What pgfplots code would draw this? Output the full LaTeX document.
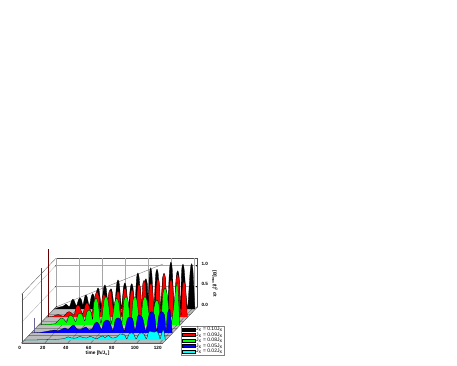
\documentclass[border=0pt]{standalone}
\usepackage{fontspec}
\setmainfont{Liberation Sans}
\usepackage{pgfplots}
\pgfplotsset{compat=1.18}
\definecolor{floorgray}{gray}{0.74}
\definecolor{rcyan}{rgb}{0,1,1}
\definecolor{rred}{rgb}{1,0,0}
\definecolor{rgreen}{rgb}{0,1,0}
\definecolor{rblue}{rgb}{0,0,1}
\pgfplotsset{ribbon/.style={draw=black,line width=0.28pt,fill=#1,mark=none,smooth,tension=0.45,
  legend image code/.code={\path[draw=black,line width=0.5pt,fill=#1] (0pt,-1.6pt) rectangle (13pt,1.6pt);}}}
\begin{document}
\begin{tikzpicture}
\path[use as bounding box] (0pt,0pt) rectangle (457pt,365pt);
\begin{axis}[
  at={(21.7pt,22pt)},anchor=origin,
  x={(1.15pt,0pt)},y={(6.86pt,7.2pt)},z={(0pt,41.7pt)},
  xmin=0,xmax=122.9,ymin=0,ymax=5,zmin=0,zmax=1.17,
  clip=false,
  xtick={0,20,40,60,80,100,120},ytick=\empty,ztick={0,0.5,1},
  xtick pos=lower,ztick pos=right,
  zticklabel pos=right,
  /pgf/number format/assume math mode=true,
  /pgf/number format/fixed,/pgf/number format/fixed zerofill,
  zticklabel style={/pgf/number format/precision=1,font=\fontsize{4.6}{5}\selectfont\bfseries,inner sep=1pt,xshift=3pt},
  xticklabel style={font=\fontsize{4.6}{5}\selectfont\bfseries,inner sep=1pt,/pgf/number format/precision=0,yshift=-2.5pt,xshift=-0.8pt},
  grid=major,
  grid style={gray!70,line width=0.3pt},
  axis line style={gray!60!black,line width=0.3pt},
  tick style={black,line width=0.3pt},
  major tick length=1.5pt,
  xlabel={time [ħ/J\textsubscript{x}]},
  xlabel style={font=\fontsize{4.8}{5}\selectfont\bfseries,inner sep=0.5pt,xshift=10pt,yshift=1.5pt},
  zlabel={[B]\textsubscript{max}(t)\textsuperscript{2} dt},
  zlabel style={font=\fontsize{4.6}{5}\selectfont\bfseries,inner sep=0.5pt,rotate=180,at={(axis cs:138.3,5,0.56)},anchor=center},
  legend style={at={(axis cs:138.5,0,-0.288)},anchor=south west,draw=gray,line width=0.4pt,
    font=\fontsize{5}{5}\selectfont,
    nodes={inner sep=0.45pt,text height=3.2pt,text depth=0.8pt},
    row sep=0.6pt,inner sep=1pt,cells={anchor=west}},
  legend cell align=left,
]
% floor strips
\addplot3[forget plot,fill=floorgray,draw=black!70,line width=0.25pt] coordinates {(0,4,0)(122.9,4,0)(122.9,5,0)(0,5,0)(0,4,0)};
\addplot3[forget plot,fill=floorgray,draw=black!70,line width=0.25pt] coordinates {(0,3,0)(122.9,3,0)(122.9,4,0)(0,4,0)(0,3,0)};
\addplot3[forget plot,fill=floorgray,draw=black!70,line width=0.25pt] coordinates {(0,2,0)(122.9,2,0)(122.9,3,0)(0,3,0)(0,2,0)};
\addplot3[forget plot,fill=floorgray,draw=black!70,line width=0.25pt] coordinates {(0,1,0)(122.9,1,0)(122.9,2,0)(0,2,0)(0,1,0)};
\addplot3[forget plot,fill=floorgray,draw=black!70,line width=0.25pt] coordinates {(0,0,0)(122.9,0,0)(122.9,1,0)(0,1,0)(0,0,0)};
% floor grid
\addplot3[forget plot,gray!60!black,line width=0.25pt] coordinates {(20,0,0)(20,5,0)};
\addplot3[forget plot,gray!60!black,line width=0.25pt] coordinates {(40,0,0)(40,5,0)};
\addplot3[forget plot,gray!60!black,line width=0.25pt] coordinates {(60,0,0)(60,5,0)};
\addplot3[forget plot,gray!60!black,line width=0.25pt] coordinates {(80,0,0)(80,5,0)};
\addplot3[forget plot,gray!60!black,line width=0.25pt] coordinates {(100,0,0)(100,5,0)};
\addplot3[forget plot,gray!60!black,line width=0.25pt] coordinates {(120,0,0)(120,5,0)};
% right axis bar
\addplot3[forget plot,gray!60!black,line width=1pt] coordinates {(122.9,5,0)(122.9,5,1.17)};
% envelope
\addplot3[forget plot,gray!80!black,line width=0.3pt] coordinates {(0,5,0)(93,5,1.03)};
% early spikes
\addplot3[forget plot,red!40!black,line width=0.9pt] coordinates {(2,3.6,0)(2,3.6,1.63)};
\addplot3[forget plot,green!45!black,line width=0.7pt] coordinates {(2.3,2.5,0)(2.3,2.5,1.37)};
\addplot3[forget plot,gray!80!blue,line width=0.6pt] coordinates {(2.8,1.4,0)(2.8,1.4,0.36)};
% black
\addplot3[ribbon=black] table[x=t,y expr=4.7,z=v] {
t v
0 0
2 .02
5 .05
8 .07
9.4 .10
10.4 .12
11.4 .10
13.5 .06
15.3 .20
16.5 .24
17.7 .20
19.5 .08
21.4 .23
22.6 .27
23.8 .23
25.2 .10
26.7 .29
27.8 .34
28.9 .29
30.7 .08
32.5 .31
33.7 .37
34.9 .31
36 .15
37.2 .43
38.3 .51
39.4 .43
41.3 .08
43.1 .49
44.3 .58
45.5 .49
47 .14
48.5 .41
49.6 .49
50.7 .41
52.6 .06
54.5 .59
55.7 .70
56.9 .59
58.7 .05
60.5 .53
61.7 .63
62.9 .53
64.6 .05
66.4 .51
67.6 .61
68.8 .51
70.3 .06
71.8 .73
73 .87
74.2 .73
76.5 .05
78.8 .62
80 .73
81.2 .60
82 .20
83 .83
84.1 .99
85.2 .83
86.8 .05
88.4 .81
89.6 .96
90.8 .81
92.6 .05
94.5 .72
95.7 .85
96.9 .72
98.7 .04
100.5 .95
101.7 1.13
102.9 .95
104.6 .04
106.4 .78
107.6 .92
108.8 .78
110 .06
111 .91
112.2 1.08
113.4 .91
116 .03
118.5 .92
119.7 1.09
120.9 .92
122.5 0
};
\addlegendentry{J\textsubscript{x} = 0.10J\textsubscript{x}}
% red
\addplot3[ribbon=rred] table[x=t,y expr=3.6,z=v] {
t v
0 0
6 .02
8.6 .05
10.1 .06
11.6 .05
15 .02
18 .11
19.7 .13
21.4 .11
24 .05
26 .25
27.5 .29
29 .25
31.5 .08
33.8 .29
35.3 .34
36.8 .29
39.5 .10
42.4 .52
44 .61
45.6 .52
47 .12
48.6 .47
50 .55
51.3 .47
52.7 .12
54 .55
55.3 .65
56.6 .55
59 .05
60.8 .53
62.2 .62
63.6 .53
65.3 .05
66.9 .59
68.3 .69
69.7 .59
71.4 .05
73 .56
74.4 .66
75.8 .56
77.4 .05
79.1 .67
80.5 .79
81.8 .70
82.8 .25
83.6 .75
84.9 .88
86.2 .75
88 .05
89.5 .69
90.9 .81
92.3 .69
94 .04
95.6 .78
97 .92
98.4 .78
99.7 .08
101 .89
102.3 1.05
103.6 .89
105.4 .04
107 .77
108.4 .90
109.8 .77
111.2 .06
112.7 .88
114.1 1.03
115.5 .88
117 .04
118.2 .72
119.6 .85
121 .72
122.5 0
};
\addlegendentry{J\textsubscript{x} = 0.09J\textsubscript{x}}
% green
\addplot3[ribbon=rgreen] table[x=t,y expr=2.5,z=v] {
t v
0 0
8 .02
14 .03
18 .14
19.9 .17
21.8 .14
24 .06
25.8 .20
27.7 .24
29.6 .20
32 .08
33.9 .25
35.8 .29
37.7 .25
40 .10
41.7 .31
43.6 .36
45.5 .31
46.8 .14
47.9 .54
49.7 .64
51.5 .54
54 .04
56.6 .58
58.4 .68
60.2 .58
63 .04
65.9 .54
67.7 .64
69.5 .54
72 .04
74 .58
75.8 .68
77.6 .58
80 .04
81.8 .58
83.6 .68
85.4 .58
88 .04
90.5 .58
92.3 .68
94.1 .58
97.5 .04
100.7 .51
102.5 .60
104.3 .51
106 .05
107.9 .75
109.7 .88
111.5 .75
115 .03
118.9 .84
120.7 .99
122.5 0
};
\addlegendentry{J\textsubscript{x} = 0.08J\textsubscript{x}}
% blue
\addplot3[ribbon=rblue] table[x=t,y expr=1.4,z=v] {
t v
0 0
7 .01
12 .03
18 .06
20.6 .07
23 .05
26 .08
29.3 .12
32 .08
35 .16
37 .19
39.5 .10
43 .08
45.5 .12
47.6 .14
50 .07
53 .10
55 .22
57 .26
59 .20
61 .08
63 .26
65.8 .31
68.2 .26
71 .06
73 .31
75.4 .36
77.8 .31
80.8 .05
83.4 .33
85.3 .38
88.2 .33
90.2 .06
92.2 .36
93.5 .43
96.8 .36
99.5 .05
102.3 .43
104.7 .51
107.1 .43
109 .05
111 .43
113.4 .51
115.8 .43
117.2 .05
118.4 .47
120.6 .55
122.5 0
};
\addlegendentry{J\textsubscript{x} = 0.05J\textsubscript{x}}
% cyan
\addplot3[ribbon=rcyan] table[x=t,y expr=0.4,z=v] {
t v
0 0
10 .005
20 .012
28 .02
35 .04
38 .08
41 .05
45 .05
48 .09
51 .06
54 .05
57 .09
60 .06
63 .03
65.7 .08
68 .10
70 .06
73 .11
76 .05
80 .07
83 .15
85 .14
87 .13
89 .03
91 .15
93 .18
95 .15
97 .03
99.5 .14
102 .18
104 .14
106 .03
107.5 .16
109 .22
111 .20
113 .19
115 .22
116.8 .14
118 .03
119.5 .18
121 .25
122.5 0
};
\addlegendentry{J\textsubscript{x} = 0.02J\textsubscript{x}}
\end{axis}
\end{tikzpicture}
\end{document}
